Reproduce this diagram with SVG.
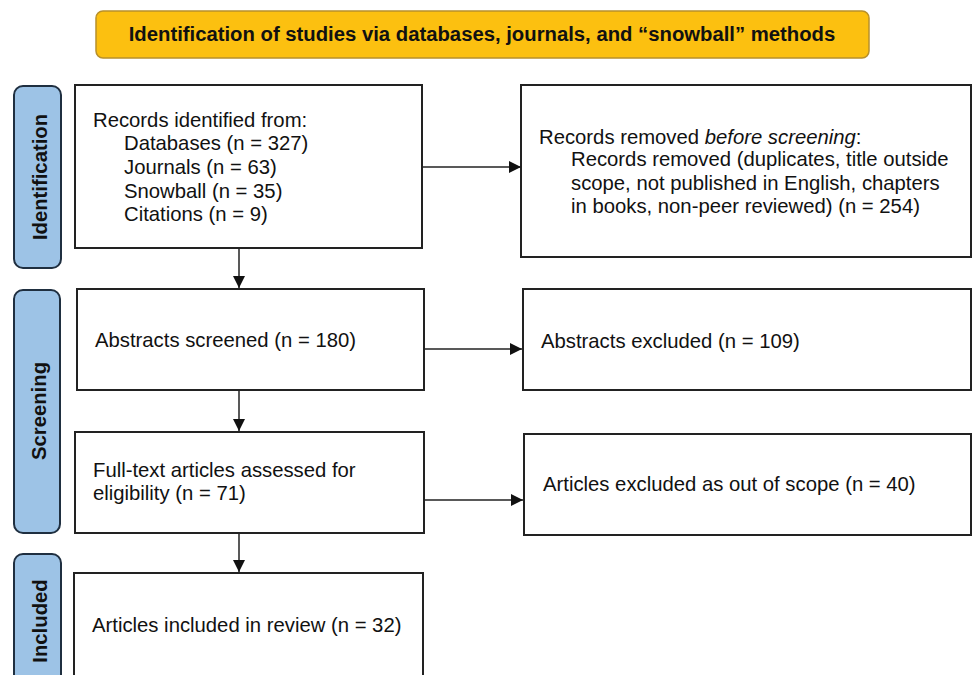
<svg xmlns="http://www.w3.org/2000/svg" width="972" height="675" viewBox="0 0 972 675">
<style>
  .box { fill: #ffffff; stroke: #222222; stroke-width: 2; }
  .phase { fill: #9dc3e6; stroke: #1f2f40; stroke-width: 2; }
  .title { fill: #fcc010; stroke: #b8902a; stroke-width: 1.5; }
  .t { font-family: "Liberation Sans", Arial, sans-serif; font-size: 20.3px; fill: #111111; }
  .b { font-family: "Liberation Sans", Arial, sans-serif; font-size: 20.3px; font-weight: bold; fill: #111111; }
  .conn { stroke: #222222; stroke-width: 1.5; fill: none; marker-end: url(#ah); }
</style>
<defs>
  <marker id="ah" viewBox="0 0 12 12" refX="12" refY="6" markerWidth="12" markerHeight="12" markerUnits="userSpaceOnUse" orient="auto">
    <path d="M0,0 L12,6 L0,12 Z" fill="#111111"/>
  </marker>
</defs>
<rect width="972" height="675" fill="#ffffff"/>

<g id="title">
  <rect class="title" x="96" y="11" width="773" height="47" rx="7"/>
  <text class="b" x="482" y="41" text-anchor="middle">Identification of studies via databases, journals, and “snowball” methods</text>
</g>

<g id="phase-identification">
  <rect class="phase" x="14" y="86" width="47" height="182" rx="9"/>
  <text class="b" transform="translate(47,177) rotate(-90)" text-anchor="middle">Identification</text>
</g>
<g id="phase-screening">
  <rect class="phase" x="14" y="290" width="46" height="243" rx="9"/>
  <text class="b" transform="translate(46,411) rotate(-90)" text-anchor="middle">Screening</text>
</g>
<g id="phase-included">
  <rect class="phase" x="14" y="554" width="47" height="140" rx="9"/>
  <text class="b" transform="translate(47,621) rotate(-90)" text-anchor="middle">Included</text>
</g>

<g id="records-identified">
  <rect class="box" x="75" y="85" width="347" height="163"/>
  <text class="t" x="93" y="127">Records identified from:</text>
  <text class="t" x="124" y="150">Databases (n = 327)</text>
  <text class="t" x="124" y="174">Journals (n = 63)</text>
  <text class="t" x="124" y="198">Snowball (n = 35)</text>
  <text class="t" x="124" y="221">Citations (n = 9)</text>
</g>

<g id="records-removed">
  <rect class="box" x="521" y="85" width="450" height="172"/>
  <text class="t" x="539" y="144">Records removed <tspan font-style="italic">before screening</tspan>:</text>
  <text class="t" x="571" y="166">Records removed (duplicates, title outside</text>
  <text class="t" x="571" y="190">scope, not published in English, chapters</text>
  <text class="t" x="571" y="213">in books, non-peer reviewed) (n = 254)</text>
</g>

<g id="abstracts-screened">
  <rect class="box" x="77" y="289" width="347" height="101"/>
  <text class="t" x="95" y="347">Abstracts screened (n = 180)</text>
</g>

<g id="abstracts-excluded">
  <rect class="box" x="523" y="289" width="448" height="101"/>
  <text class="t" x="541" y="348">Abstracts excluded (n = 109)</text>
</g>

<g id="fulltext-assessed">
  <rect class="box" x="75" y="432" width="349" height="101"/>
  <text class="t" x="93" y="477">Full-text articles assessed for</text>
  <text class="t" x="93" y="500">eligibility (n = 71)</text>
</g>

<g id="articles-excluded">
  <rect class="box" x="524" y="434" width="447" height="101"/>
  <text class="t" x="543" y="491">Articles excluded as out of scope (n = 40)</text>
</g>

<g id="articles-included">
  <rect class="box" x="74" y="573" width="349" height="120"/>
  <text class="t" x="92" y="632">Articles included in review (n = 32)</text>
</g>

<g id="connectors">
  <line class="conn" x1="422" y1="167" x2="521" y2="167"/>
  <line class="conn" x1="239" y1="248" x2="239" y2="288"/>
  <line class="conn" x1="424" y1="349" x2="522" y2="349"/>
  <line class="conn" x1="239" y1="390" x2="239" y2="431"/>
  <line class="conn" x1="424" y1="500" x2="523" y2="500"/>
  <line class="conn" x1="239" y1="533" x2="239" y2="572"/>
</g>
</svg>
